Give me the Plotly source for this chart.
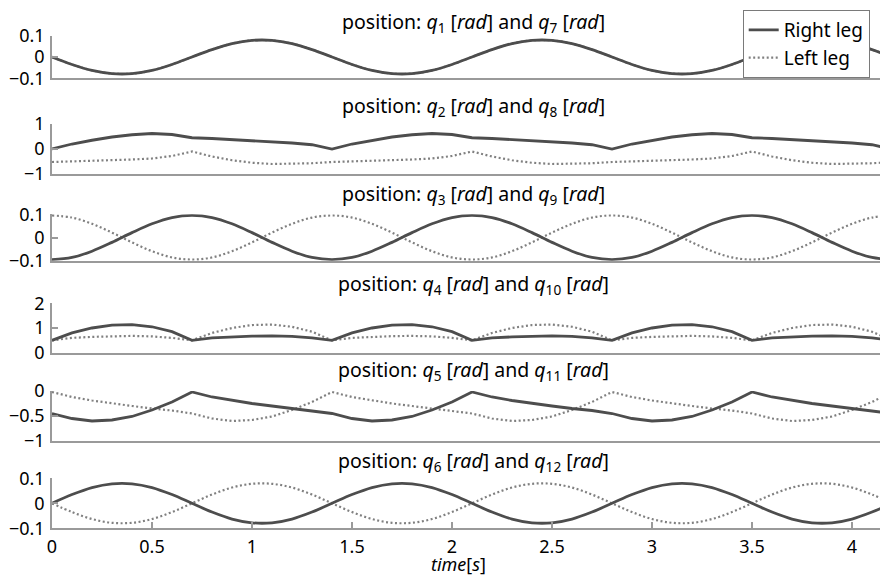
import plotly.graph_objects as go

# ---------------- data ----------------
time = [0.0, 0.1, 0.2, 0.3, 0.4, 0.5, 0.6, 0.7, 0.8, 0.9, 1.0, 1.1, 1.2, 1.3,
        1.4, 1.5, 1.6, 1.7, 1.8, 1.9, 2.0, 2.1, 2.2, 2.3, 2.4, 2.5, 2.6, 2.7,
        2.8, 2.9, 3.0, 3.1, 3.2, 3.3, 3.4, 3.5, 3.6, 3.7, 3.8, 3.9, 4.0, 4.1, 4.2]

q1_right = [0.0, -0.035, -0.063, -0.078, -0.078, -0.063, -0.035, 0.0, 0.035, 0.063, 0.078, 0.078, 0.063, 0.035,
            0.0, -0.035, -0.063, -0.078, -0.078, -0.063, -0.035, 0.0, 0.035, 0.063, 0.078, 0.078, 0.063, 0.035,
            0.0, -0.035, -0.063, -0.078, -0.078, -0.063, -0.035, 0.0, 0.035, 0.063, 0.078, 0.078, 0.063, 0.035, 0.0]
q7_left = [0.0, -0.035, -0.063, -0.078, -0.078, -0.063, -0.035, 0.0, 0.035, 0.063, 0.078, 0.078, 0.063, 0.035,
           0.0, -0.035, -0.063, -0.078, -0.078, -0.063, -0.035, 0.0, 0.035, 0.063, 0.078, 0.078, 0.063, 0.035,
           0.0, -0.035, -0.063, -0.078, -0.078, -0.063, -0.035, 0.0, 0.035, 0.063, 0.078, 0.078, 0.063, 0.035, 0.0]

q2_right = [0.0, 0.2, 0.35, 0.48, 0.57, 0.62, 0.58, 0.45, 0.42, 0.38, 0.34, 0.3, 0.24, 0.17,
            0.0, 0.2, 0.35, 0.48, 0.57, 0.62, 0.58, 0.45, 0.42, 0.38, 0.34, 0.3, 0.24, 0.17,
            0.0, 0.2, 0.35, 0.48, 0.57, 0.62, 0.58, 0.45, 0.42, 0.38, 0.34, 0.3, 0.24, 0.17, 0.0]
q8_left = [-0.52, -0.5, -0.48, -0.46, -0.42, -0.38, -0.28, -0.1, -0.3, -0.45, -0.55, -0.6, -0.6, -0.57,
           -0.52, -0.5, -0.48, -0.46, -0.42, -0.38, -0.28, -0.1, -0.3, -0.45, -0.55, -0.6, -0.6, -0.57,
           -0.52, -0.5, -0.48, -0.46, -0.42, -0.38, -0.28, -0.1, -0.3, -0.45, -0.55, -0.6, -0.6, -0.57, -0.52]

q3_right = [-0.095, -0.086, -0.059, -0.021, 0.021, 0.059, 0.086, 0.095, 0.086, 0.059, 0.021, -0.021, -0.059, -0.086,
            -0.095, -0.086, -0.059, -0.021, 0.021, 0.059, 0.086, 0.095, 0.086, 0.059, 0.021, -0.021, -0.059, -0.086,
            -0.095, -0.086, -0.059, -0.021, 0.021, 0.059, 0.086, 0.095, 0.086, 0.059, 0.021, -0.021, -0.059, -0.086, -0.095]
q9_left = [0.095, 0.086, 0.059, 0.021, -0.021, -0.059, -0.086, -0.095, -0.086, -0.059, -0.021, 0.021, 0.059, 0.086,
           0.095, 0.086, 0.059, 0.021, -0.021, -0.059, -0.086, -0.095, -0.086, -0.059, -0.021, 0.021, 0.059, 0.086,
           0.095, 0.086, 0.059, 0.021, -0.021, -0.059, -0.086, -0.095, -0.086, -0.059, -0.021, 0.021, 0.059, 0.086, 0.095]

q4_right = [0.5, 0.8, 1.0, 1.12, 1.14, 1.05, 0.85, 0.5, 0.6, 0.64, 0.67, 0.68, 0.66, 0.6,
            0.5, 0.8, 1.0, 1.12, 1.14, 1.05, 0.85, 0.5, 0.6, 0.64, 0.67, 0.68, 0.66, 0.6,
            0.5, 0.8, 1.0, 1.12, 1.14, 1.05, 0.85, 0.5, 0.6, 0.64, 0.67, 0.68, 0.66, 0.6, 0.5]
q10_left = [0.5, 0.6, 0.64, 0.67, 0.68, 0.66, 0.6, 0.5, 0.8, 1.0, 1.12, 1.14, 1.05, 0.85,
            0.5, 0.6, 0.64, 0.67, 0.68, 0.66, 0.6, 0.5, 0.8, 1.0, 1.12, 1.14, 1.05, 0.85,
            0.5, 0.6, 0.64, 0.67, 0.68, 0.66, 0.6, 0.5, 0.8, 1.0, 1.12, 1.14, 1.05, 0.85, 0.5]

q5_right = [-0.45, -0.55, -0.6, -0.58, -0.51, -0.38, -0.22, -0.02, -0.12, -0.19, -0.25, -0.3, -0.35, -0.39,
            -0.45, -0.55, -0.6, -0.58, -0.51, -0.38, -0.22, -0.02, -0.12, -0.19, -0.25, -0.3, -0.35, -0.39,
            -0.45, -0.55, -0.6, -0.58, -0.51, -0.38, -0.22, -0.02, -0.12, -0.19, -0.25, -0.3, -0.35, -0.39, -0.45]
q11_left = [-0.02, -0.12, -0.19, -0.25, -0.3, -0.35, -0.39, -0.45, -0.55, -0.6, -0.58, -0.51, -0.38, -0.22,
            -0.02, -0.12, -0.19, -0.25, -0.3, -0.35, -0.39, -0.45, -0.55, -0.6, -0.58, -0.51, -0.38, -0.22,
            -0.02, -0.12, -0.19, -0.25, -0.3, -0.35, -0.39, -0.45, -0.55, -0.6, -0.58, -0.51, -0.38, -0.22, -0.02]

q6_right = [0.0, 0.035, 0.063, 0.078, 0.078, 0.063, 0.035, 0.0, -0.035, -0.063, -0.078, -0.078, -0.063, -0.035,
            0.0, 0.035, 0.063, 0.078, 0.078, 0.063, 0.035, 0.0, -0.035, -0.063, -0.078, -0.078, -0.063, -0.035,
            0.0, 0.035, 0.063, 0.078, 0.078, 0.063, 0.035, 0.0, -0.035, -0.063, -0.078, -0.078, -0.063, -0.035, 0.0]
q12_left = [0.0, -0.035, -0.063, -0.078, -0.078, -0.063, -0.035, 0.0, 0.035, 0.063, 0.078, 0.078, 0.063, 0.035,
            0.0, -0.035, -0.063, -0.078, -0.078, -0.063, -0.035, 0.0, 0.035, 0.063, 0.078, 0.078, 0.063, 0.035,
            0.0, -0.035, -0.063, -0.078, -0.078, -0.063, -0.035, 0.0, 0.035, 0.063, 0.078, 0.078, 0.063, 0.035, 0.0]

right_series = [q1_right, q2_right, q3_right, q4_right, q5_right, q6_right]
left_series = [q7_left, q8_left, q9_left, q10_left, q11_left, q12_left]
right_idx = ["1", "2", "3", "4", "5", "6"]
left_idx = ["7", "8", "9", "10", "11", "12"]
y_ranges = [[-0.1, 0.1], [-1, 1], [-0.1, 0.1], [0, 2], [-1, 0], [-0.1, 0.1]]
y_ticks = [[-0.1, 0, 0.1], [-1, 0, 1], [-0.1, 0, 0.1], [0, 1, 2], [-1, -0.5, 0], [-0.1, 0, 0.1]]
x_ticks = [0, 0.5, 1, 1.5, 2, 2.5, 3, 3.5, 4]
x_tick_labels = ["0", "0.5", "1", "1.5", "2", "2.5", "3", "3.5", "4"]
legend_names = ["Right leg", "Left leg"]
x_title = "<i>time</i>[<i>s</i>]"

# ---------------- layout helpers ----------------
# The page body has an 8px margin, so the figure is drawn at (8, 8) on the page.
OFF = 8
W = 888 - OFF
H = 577.0 - OFF
L = 52 - OFF
W_PLOT = W - L
panel_px = [(35.7, 78.3), (124, 174), (214.3, 260.7), (303.3, 352.7), (391, 441), (478.3, 528.3)]
title_px = [22, 107, 195, 284, 371, 461]
smooth = [True, False, True, False, False, True]

FONT = "Noto Sans"
AX = "#9a9a9a"
RIGHT_C = "#4d4d4d"
LEFT_C = "#808080"

fig = go.Figure()
layout = dict(
    width=W, height=H,
    margin=dict(l=L, r=0, t=0, b=0, autoexpand=False),
    paper_bgcolor="white", plot_bgcolor="white",
    font=dict(family=FONT, size=18, color="black"),
    showlegend=True,
    legend=dict(x=(742.7 - 52) / W_PLOT, y=1 - (10 - OFF) / H, xanchor="left", yanchor="top",
                bordercolor="#7a7a7a", borderwidth=1, bgcolor="white",
                font=dict(family=FONT, size=19), tracegroupgap=0, itemwidth=30),
)
annotations = []
for i in range(6):
    n = "" if i == 0 else str(i + 1)
    xa = "x" + n
    ya = "y" + n
    shape = "spline" if smooth[i] else "linear"
    fig.add_trace(go.Scatter(x=time, y=left_series[i], mode="lines", xaxis=xa, yaxis=ya,
                             name=legend_names[1], legendgroup="L", showlegend=(i == 0),
                             legendrank=2,
                             line=dict(color=LEFT_C, width=2.2, dash="2px,2.5px", shape=shape)))
    fig.add_trace(go.Scatter(x=time, y=right_series[i], mode="lines", xaxis=xa, yaxis=ya,
                             name=legend_names[0], legendgroup="R", showlegend=(i == 0),
                             legendrank=1,
                             line=dict(color=RIGHT_C, width=2.8, shape=shape)))
    top, bot = panel_px[i]
    top -= OFF
    bot -= OFF
    last = (i == 5)
    layout["xaxis" + n] = dict(
        domain=[0, 1], range=[0, 4.18], anchor=ya, automargin=False,
        showline=True, linecolor=AX, linewidth=1.6, showgrid=False, zeroline=False,
        ticks="inside" if last else "", ticklen=7, tickcolor=AX, tickwidth=1.5,
        tickvals=x_ticks if last else [], ticktext=x_tick_labels if last else [],
        showticklabels=last, tickfont=dict(size=18),
        ticklabelstandoff=1 if last else 0,
    )
    if i > 0:
        layout["xaxis" + n]["matches"] = "x"
    layout["yaxis" + n] = dict(
        domain=[1 - bot / H, 1 - top / H], range=y_ranges[i], anchor=xa, automargin=False,
        showline=True, linecolor=AX, linewidth=1.6, showgrid=False, zeroline=False,
        ticks="inside", ticklen=6, tickcolor=AX, tickwidth=1.5,
        tickvals=y_ticks[i], tickfont=dict(size=18), ticklabelstandoff=2,
    )
    annotations.append(dict(
        xref="paper", yref="paper", x=(473 - 52) / W_PLOT, y=1 - (title_px[i] - OFF) / H,
        xanchor="center", yanchor="middle", showarrow=False,
        text=("position: <i>q</i><sub>%s</sub> [<i>rad</i>] and <i>q</i><sub>%s</sub> [<i>rad</i>]"
              % (right_idx[i], left_idx[i])),
        font=dict(family=FONT, size=19.5, color="black"),
    ))
annotations.append(dict(
    xref="paper", yref="paper", x=(458 - 52) / W_PLOT, y=1 - (564 - OFF) / H,
    xanchor="center", yanchor="middle", showarrow=False,
    text=x_title, font=dict(family=FONT, size=18, color="black"),
))
layout["annotations"] = annotations
fig.update_layout(**layout)
fig.write_html("out.html")
